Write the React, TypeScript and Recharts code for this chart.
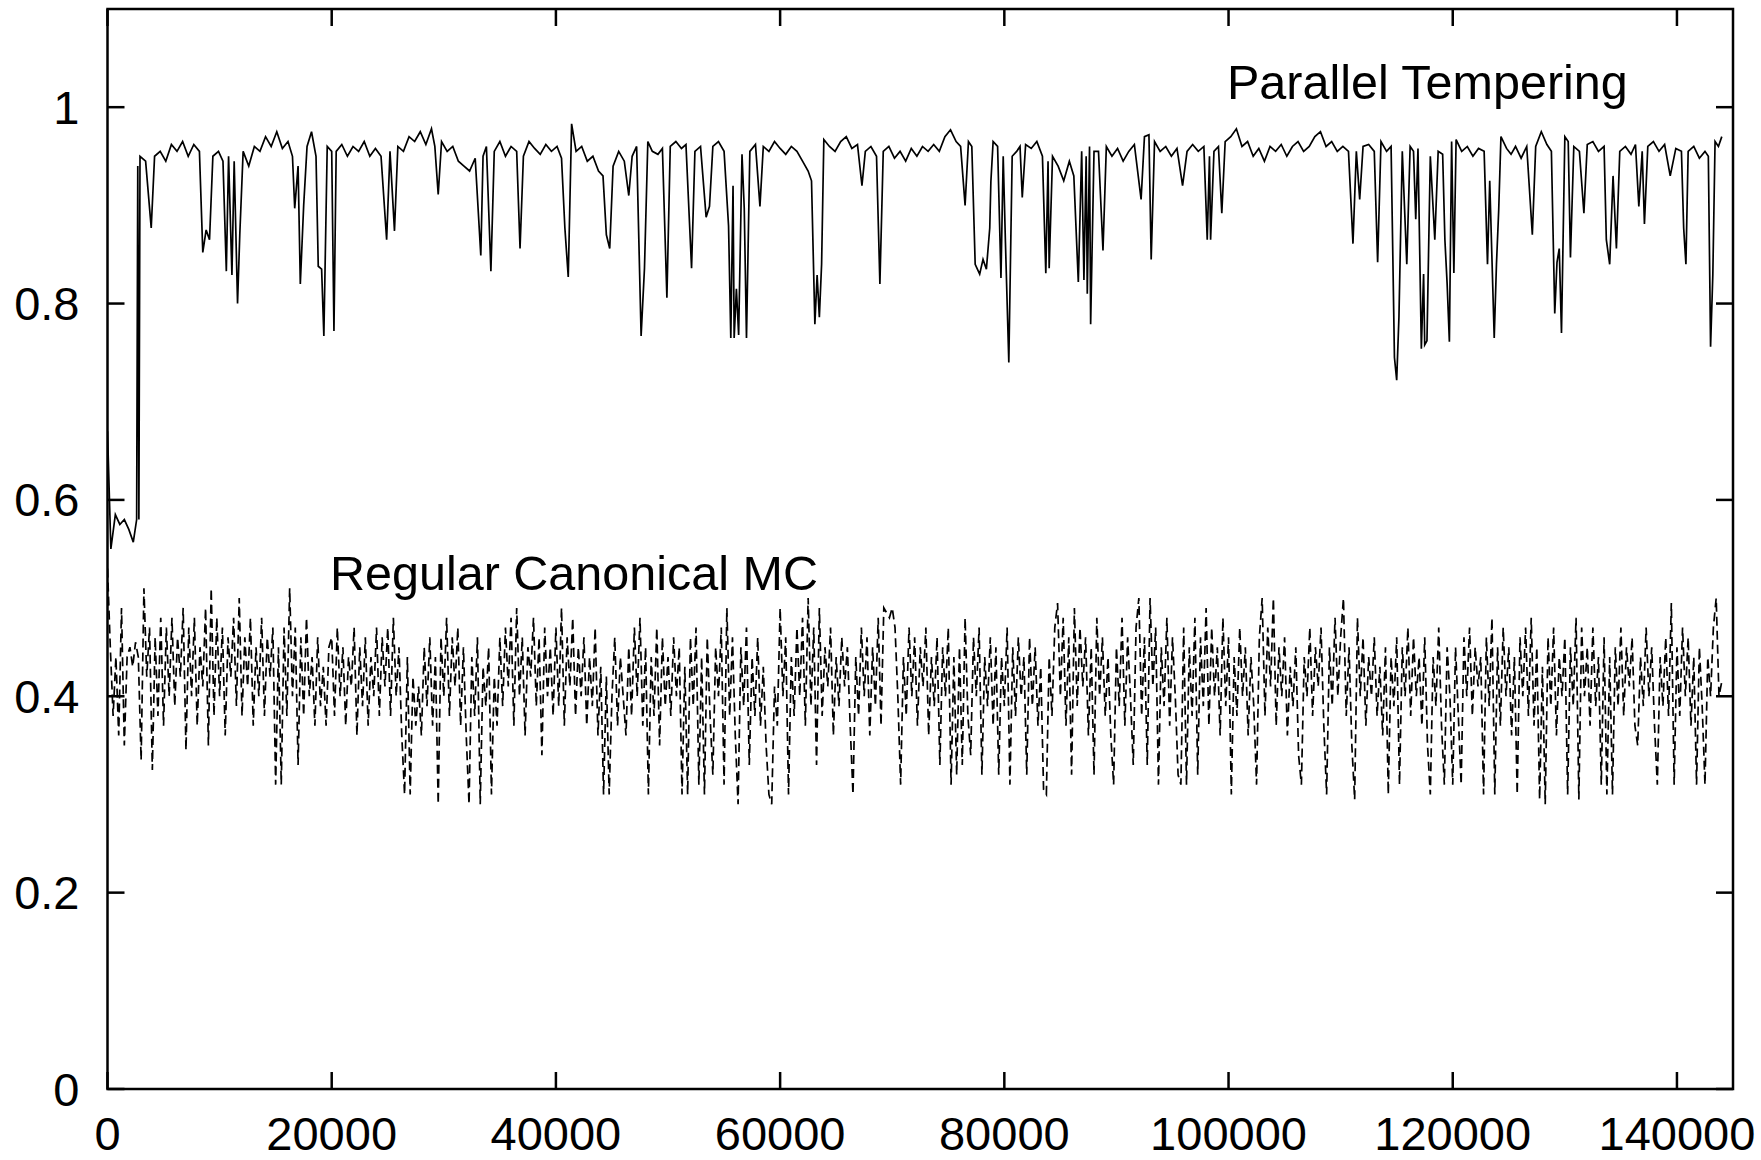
import React from "react";
import { LineChart, Line, XAxis, YAxis } from "recharts";

const xTicks = [0, 20000, 40000, 60000, 80000, 100000, 120000, 140000];
const yTicks = [0, 0.2, 0.4, 0.6, 0.8, 1];
const xDomain: [number, number] = [0, 145000];
const yDomain: [number, number] = [0, 1.1];
const ptLabel = "Parallel Tempering";
const mcLabel = "Regular Canonical MC";

// Parallel Tempering trace: [MC step, value]
const parallelTempering: [number, number][] = [
  [0, 0.67], [300, 0.55], [700, 0.585], [1100, 0.575], [1500, 0.58], [1900, 0.57], [2300, 0.557], [2600, 0.58], [2700, 0.94], [2800, 0.58], [2900, 0.95],
  [3400, 0.945], [3900, 0.877], [4200, 0.95], [4700, 0.955], [5200, 0.945], [5700, 0.962], [6200, 0.955], [6700, 0.965], [7200, 0.95], [7700, 0.962],
  [8200, 0.955], [8500, 0.852], [8800, 0.875], [9100, 0.865], [9400, 0.95], [9900, 0.955], [10300, 0.945], [10600, 0.833], [10800, 0.95], [11100, 0.829],
  [11300, 0.945], [11600, 0.8], [11800, 0.87], [12100, 0.955], [12600, 0.94], [13100, 0.96], [13600, 0.955], [14100, 0.97], [14600, 0.96], [15100, 0.975],
  [15600, 0.958], [16100, 0.965], [16500, 0.95], [16700, 0.897], [17000, 0.94], [17200, 0.82], [17500, 0.9], [17800, 0.96], [18200, 0.975], [18600, 0.95],
  [18800, 0.838], [19100, 0.835], [19300, 0.767], [19600, 0.96], [20000, 0.955], [20200, 0.772], [20400, 0.955], [20900, 0.962], [21400, 0.95], [21900, 0.96],
  [22400, 0.955], [22900, 0.965], [23400, 0.95], [23900, 0.958], [24400, 0.95],
  [24900, 0.865], [25200, 0.955], [25600, 0.874], [25900, 0.96], [26400, 0.955], [26900, 0.97], [27400, 0.965], [27900, 0.975], [28400, 0.962], [28900, 0.978],
  [29200, 0.96], [29500, 0.911], [29800, 0.965], [30300, 0.955], [30800, 0.96], [31300, 0.945], [31800, 0.94], [32300, 0.935], [32800, 0.948], [33300, 0.849],
  [33500, 0.95], [33800, 0.96], [34200, 0.833], [34500, 0.955], [35000, 0.965], [35500, 0.95], [36000, 0.96], [36500, 0.955], [36800, 0.856], [37100, 0.95],
  [37600, 0.965], [38100, 0.958], [38600, 0.952], [39100, 0.962], [39600, 0.955], [40100, 0.96], [40500, 0.948], [40800, 0.877], [41100, 0.827], [41400, 0.983],
  [41800, 0.955], [42300, 0.96], [42800, 0.945], [43300, 0.95], [43800, 0.935], [44200, 0.93], [44500, 0.87], [44800, 0.856], [45100, 0.94], [45600, 0.955],
  [46100, 0.945], [46500, 0.91], [46800, 0.95], [47200, 0.96], [47600, 0.767], [47900, 0.836], [48200, 0.965], [48600, 0.955],
  [49100, 0.952], [49500, 0.958], [49900, 0.806], [50200, 0.96], [50700, 0.965], [51200, 0.958], [51600, 0.962], [52100, 0.836], [52400, 0.955], [52900, 0.96],
  [53400, 0.888], [53700, 0.899], [54000, 0.96], [54500, 0.965], [55000, 0.955], [55400, 0.879], [55600, 0.765], [55800, 0.92], [55900, 0.765], [56100, 0.815],
  [56300, 0.768], [56600, 0.952], [56800, 0.897], [57000, 0.765], [57300, 0.955], [57800, 0.962], [58200, 0.899], [58500, 0.96], [59000, 0.955], [59500, 0.965],
  [60000, 0.958], [60500, 0.952], [61000, 0.96], [61500, 0.955], [62000, 0.945], [62500, 0.935], [62800, 0.925], [63100, 0.779], [63300, 0.829], [63500, 0.786],
  [63700, 0.84], [63900, 0.967], [64400, 0.96], [64900, 0.955], [65400, 0.965], [65900, 0.97], [66400, 0.958], [66900, 0.962], [67300, 0.92], [67600, 0.955],
  [68100, 0.96], [68600, 0.95], [68900, 0.82], [69200, 0.955], [69700, 0.96], [70200, 0.948], [70700, 0.955], [71200, 0.945], [71700, 0.958], [72200, 0.95],
  [72700, 0.96], [73200, 0.955],
  [73700, 0.962], [74200, 0.955], [74700, 0.97], [75200, 0.977], [75700, 0.965], [76100, 0.96], [76500, 0.9], [76800, 0.965], [77100, 0.96], [77400, 0.84],
  [77800, 0.83], [78100, 0.845], [78400, 0.835], [78700, 0.877], [78800, 0.924], [79000, 0.965], [79400, 0.96], [79700, 0.826], [79900, 0.95], [80100, 0.862],
  [80400, 0.74], [80700, 0.95], [81100, 0.955], [81400, 0.96], [81600, 0.908], [81900, 0.962], [82400, 0.958], [82900, 0.965], [83400, 0.95], [83700, 0.831],
  [83900, 0.945], [84000, 0.836], [84300, 0.95], [84800, 0.94], [85300, 0.925], [85800, 0.945], [86200, 0.93], [86600, 0.822], [86900, 0.955], [87100, 0.824],
  [87300, 0.95], [87400, 0.81], [87600, 0.96], [87700, 0.779], [88000, 0.955], [88400, 0.955], [88800, 0.854], [89100, 0.96], [89600, 0.95], [90100, 0.958],
  [90600, 0.945], [91100, 0.955], [91600, 0.962], [92200, 0.906], [92500, 0.97], [92900, 0.972], [93100, 0.845], [93400, 0.965], [93900, 0.955], [94400, 0.96],
  [94900, 0.95], [95400, 0.958], [95900, 0.92], [96300, 0.955], [96800, 0.962], [97300, 0.955], [97800, 0.96], [98100, 0.865], [98300, 0.95], [98400, 0.865],
  [98700, 0.955], [99100, 0.96], [99400, 0.892], [99700, 0.965], [100200, 0.97], [100700, 0.978], [101200, 0.96], [101700, 0.965], [102200, 0.95], [102700, 0.958],
  [103200, 0.945], [103700, 0.96], [104200, 0.955], [104700, 0.962], [105200, 0.95], [105700, 0.96], [106200, 0.965], [106700, 0.955], [107200, 0.96], [107700, 0.97],
  [108200, 0.975], [108700, 0.96], [109200, 0.965], [109700, 0.955], [110200, 0.96], [110700, 0.955], [111100, 0.861], [111400, 0.955], [111700, 0.906], [112000, 0.96],
  [112500, 0.962], [113000, 0.955], [113300, 0.842], [113600, 0.965], [114100, 0.955], [114500, 0.96], [114800, 0.745], [115000, 0.722], [115200, 0.786], [115500, 0.955],
  [115900, 0.84], [116200, 0.96], [116500, 0.955], [116700, 0.886], [116900, 0.958], [117200, 0.754], [117400, 0.83], [117500, 0.758], [117700, 0.762], [118000, 0.95],
  [118400, 0.865], [118700, 0.955], [119100, 0.952], [119300, 0.865], [119500, 0.82], [119700, 0.761], [119900, 0.965], [120100, 0.831], [120300, 0.967],
  [120800, 0.955], [121300, 0.96], [121800, 0.95], [122300, 0.958], [122800, 0.955], [123100, 0.84], [123300, 0.925], [123700, 0.765], [123900, 0.84], [124100, 0.895],
  [124300, 0.97], [124800, 0.958], [125200, 0.952], [125600, 0.96], [126100, 0.948], [126600, 0.96], [127100, 0.87], [127400, 0.96], [127900, 0.975], [128400, 0.962],
  [128800, 0.955], [129100, 0.79], [129300, 0.842], [129500, 0.856], [129700, 0.77], [130000, 0.97], [130300, 0.965], [130500, 0.847], [130800, 0.96], [131300, 0.955],
  [131700, 0.892], [132000, 0.962], [132500, 0.965], [133000, 0.955], [133500, 0.96], [133700, 0.865], [134000, 0.84], [134300, 0.93], [134600, 0.856], [134900, 0.955],
  [135400, 0.96], [135900, 0.952], [136300, 0.962], [136600, 0.899], [136900, 0.955], [137100, 0.881], [137400, 0.96], [137900, 0.965], [138400, 0.955], [138900, 0.962],
  [139400, 0.93], [139900, 0.958], [140400, 0.955], [140600, 0.877], [140800, 0.84], [141000, 0.955], [141500, 0.96], [142000, 0.948], [142500, 0.955], [142800, 0.95],
  [143000, 0.756], [143200, 0.829], [143400, 0.965], [143700, 0.96], [144000, 0.97],
];

// Regular canonical MC trace, sampled every mcStep steps
const mcStep = 250;
const canonicalMC: number[] = [
  0.53, 0.45, 0.38, 0.44, 0.36, 0.49, 0.35, 0.44, 0.45, 0.43, 0.455, 0.44, 0.335, 0.51, 0.42, 0.47, 0.325, 0.46, 0.38, 0.48,
  0.37, 0.47, 0.40, 0.48, 0.39, 0.46, 0.42, 0.49, 0.345, 0.47, 0.40, 0.48, 0.37, 0.45, 0.41, 0.49, 0.35, 0.51, 0.38, 0.48,
  0.40, 0.47, 0.36, 0.46, 0.42, 0.48, 0.39, 0.50, 0.38, 0.46, 0.41, 0.48, 0.37, 0.45, 0.40, 0.48, 0.38, 0.46, 0.42, 0.47,
  0.31, 0.45, 0.31, 0.47, 0.38, 0.51, 0.40, 0.47, 0.33, 0.46, 0.38, 0.48, 0.40, 0.44, 0.37, 0.46, 0.39, 0.43, 0.37, 0.45,
  0.46, 0.38, 0.47, 0.40, 0.45, 0.37, 0.44, 0.41, 0.47, 0.36, 0.45, 0.39, 0.46, 0.37, 0.44, 0.40, 0.47, 0.38, 0.46, 0.41,
  0.47, 0.38, 0.48, 0.40, 0.45, 0.36, 0.30, 0.44, 0.30, 0.42, 0.37, 0.41, 0.36, 0.45, 0.39, 0.46, 0.37, 0.44, 0.29, 0.46,
  0.40, 0.48, 0.38, 0.46, 0.41, 0.47, 0.37, 0.45, 0.36, 0.29, 0.44, 0.38, 0.46, 0.29, 0.43, 0.39, 0.45, 0.30, 0.42, 0.37,
  0.46, 0.39, 0.47, 0.41, 0.48, 0.37, 0.49, 0.40, 0.46, 0.36, 0.45, 0.42, 0.48, 0.39, 0.46, 0.34, 0.47, 0.40, 0.45, 0.38,
  0.47, 0.39, 0.49, 0.37, 0.46, 0.41, 0.48, 0.38, 0.45, 0.40, 0.46, 0.37, 0.44, 0.39, 0.47, 0.36, 0.43, 0.30, 0.42, 0.30,
  0.40, 0.46, 0.37, 0.44, 0.40, 0.36, 0.45, 0.38, 0.47, 0.40, 0.48, 0.37, 0.45, 0.30, 0.44, 0.38, 0.47, 0.35, 0.46, 0.39,
  0.44, 0.38, 0.46, 0.40, 0.45, 0.30, 0.43, 0.30, 0.46, 0.39, 0.47, 0.31, 0.44, 0.30, 0.46, 0.38, 0.32, 0.45, 0.40, 0.47,
  0.31, 0.49, 0.38, 0.46, 0.36, 0.29, 0.45, 0.39, 0.47, 0.33, 0.44, 0.38, 0.46, 0.37, 0.43, 0.35, 0.30, 0.29, 0.41, 0.37,
  0.49, 0.40, 0.46, 0.30, 0.44, 0.38, 0.47, 0.40, 0.48, 0.37, 0.50, 0.39, 0.47, 0.33, 0.49, 0.38, 0.45, 0.41, 0.47, 0.36,
  0.44, 0.39, 0.46, 0.41, 0.45, 0.37, 0.30, 0.44, 0.38, 0.47, 0.40, 0.46, 0.36, 0.45, 0.39, 0.48, 0.37, 0.49, 0.485, 0.48,
  0.49, 0.47, 0.40, 0.31, 0.44, 0.38, 0.47, 0.40, 0.46, 0.37, 0.45, 0.41, 0.47, 0.36, 0.44, 0.39, 0.46, 0.33, 0.45, 0.40,
  0.47, 0.31, 0.44, 0.32, 0.45, 0.33, 0.48, 0.38, 0.34, 0.46, 0.40, 0.47, 0.32, 0.44, 0.39, 0.46, 0.37, 0.45, 0.32, 0.44,
  0.39, 0.47, 0.31, 0.45, 0.38, 0.46, 0.40, 0.44, 0.32, 0.46, 0.39, 0.45, 0.37, 0.43, 0.305, 0.30, 0.44, 0.38, 0.47, 0.495,
  0.40, 0.48, 0.37, 0.46, 0.32, 0.49, 0.39, 0.47, 0.41, 0.46, 0.36, 0.45, 0.32, 0.48, 0.40, 0.46, 0.38, 0.44, 0.36, 0.31,
  0.45, 0.39, 0.48, 0.37, 0.46, 0.40, 0.33, 0.47, 0.50, 0.38, 0.46, 0.33, 0.50, 0.41, 0.47, 0.31, 0.45, 0.39, 0.48, 0.37,
  0.46, 0.40, 0.32, 0.31, 0.47, 0.31, 0.45, 0.38, 0.48, 0.32, 0.46, 0.39, 0.49, 0.37, 0.47, 0.40, 0.45, 0.36, 0.48, 0.39,
  0.46, 0.30, 0.44, 0.38, 0.47, 0.40, 0.45, 0.36, 0.44, 0.39, 0.31, 0.46, 0.50, 0.38, 0.47, 0.41, 0.50, 0.37, 0.45, 0.40,
  0.46, 0.36, 0.43, 0.39, 0.45, 0.34, 0.31, 0.44, 0.40, 0.47, 0.38, 0.45, 0.41, 0.47, 0.37, 0.30, 0.45, 0.39, 0.48, 0.40,
  0.46, 0.50, 0.38, 0.45, 0.35, 0.295, 0.48, 0.40, 0.46, 0.37, 0.44, 0.40, 0.46, 0.38, 0.43, 0.36, 0.45, 0.30, 0.44, 0.39,
  0.46, 0.31, 0.45, 0.40, 0.47, 0.38, 0.46, 0.40, 0.44, 0.37, 0.46, 0.35, 0.30, 0.44, 0.39, 0.47, 0.37, 0.31, 0.45, 0.40,
  0.31, 0.45, 0.38, 0.31, 0.46, 0.40, 0.47, 0.38, 0.45, 0.41, 0.44, 0.30, 0.46, 0.39, 0.48, 0.30, 0.45, 0.37, 0.47, 0.40,
  0.45, 0.36, 0.44, 0.30, 0.46, 0.40, 0.47, 0.38, 0.48, 0.37, 0.45, 0.295, 0.43, 0.29, 0.46, 0.39, 0.47, 0.36, 0.44, 0.40,
  0.46, 0.30, 0.45, 0.39, 0.48, 0.295, 0.47, 0.40, 0.45, 0.37, 0.47, 0.39, 0.44, 0.31, 0.46, 0.30, 0.44, 0.30, 0.45, 0.39,
  0.47, 0.38, 0.45, 0.41, 0.46, 0.37, 0.35, 0.44, 0.39, 0.47, 0.40, 0.45, 0.37, 0.31, 0.44, 0.39, 0.46, 0.38, 0.495, 0.31,
  0.45, 0.38, 0.47, 0.40, 0.46, 0.37, 0.44, 0.31, 0.45, 0.39, 0.31, 0.44, 0.40, 0.47, 0.50, 0.40, 0.415,
];

const ptData = parallelTempering.map(([step, value]) => ({ step, value }));
const mcData = canonicalMC.map((value, i) => ({ step: i * mcStep, value }));

const FONT = "'Liberation Sans', Arial, Helvetica, sans-serif";
const TICK_FONT = 47;
const LABEL_FONT = 48.5;
const TICK_LEN = 17;
const AXIS_W = 2.5;

// layout
const CHART_W = 1761;
const CHART_H = 1160;
const MARGIN = { top: 9, right: 28, bottom: 0, left: 0 };
const Y_AXIS_W = 107.5;
const X_AXIS_H = 71;
const PLOT_LEFT = MARGIN.left + Y_AXIS_W;
const PLOT_TOP = MARGIN.top;
const PLOT_RIGHT = CHART_W - MARGIN.right;
const PLOT_BOTTOM = CHART_H - MARGIN.bottom - X_AXIS_H;

const BottomTick = (props: any) => {
  const { x, payload } = props;
  return (
    <g>
      <line x1={x} y1={PLOT_BOTTOM} x2={x} y2={PLOT_BOTTOM - TICK_LEN} stroke="#000" strokeWidth={AXIS_W} />
      <line x1={x} y1={PLOT_TOP} x2={x} y2={PLOT_TOP + TICK_LEN} stroke="#000" strokeWidth={AXIS_W} />
      <text x={x} y={PLOT_BOTTOM + 61} textAnchor="middle" fontSize={TICK_FONT} fontFamily={FONT} fill="#000">
        {String(payload.value)}
      </text>
    </g>
  );
};

const LeftTick = (props: any) => {
  const { y, payload } = props;
  return (
    <g>
      <line x1={PLOT_LEFT} y1={y} x2={PLOT_LEFT + TICK_LEN} y2={y} stroke="#000" strokeWidth={AXIS_W} />
      <line x1={PLOT_RIGHT} y1={y} x2={PLOT_RIGHT - TICK_LEN} y2={y} stroke="#000" strokeWidth={AXIS_W} />
      <text x={PLOT_LEFT - 28} y={y} textAnchor="end" dominantBaseline="central" fontSize={TICK_FONT} fontFamily={FONT} fill="#000">
        {String(payload.value)}
      </text>
    </g>
  );
};

export default function App() {
  return (
    <div style={{ position: "relative", width: CHART_W, height: CHART_H, background: "#fff" }}>
      <style>{`html,body{margin:0;padding:0;overflow:hidden;background:#fff}`}</style>
      <LineChart width={CHART_W} height={CHART_H} margin={MARGIN}>
        <XAxis
          type="number"
          dataKey="step"
          domain={xDomain}
          ticks={xTicks}
          interval={0}
          allowDataOverflow
          height={X_AXIS_H}
          tickLine={false}
          axisLine={false}
          tick={<BottomTick />}
        />
        <YAxis
          type="number"
          domain={yDomain}
          ticks={yTicks}
          interval={0}
          allowDataOverflow
          width={Y_AXIS_W}
          tickLine={false}
          axisLine={false}
          tick={<LeftTick />}
        />
        <Line
          data={ptData}
          dataKey="value"
          type="linear"
          stroke="#000"
          strokeWidth={1.7}
          dot={false}
          activeDot={false}
          isAnimationActive={false}
        />
        <Line
          data={mcData}
          dataKey="value"
          type="linear"
          stroke="#000"
          strokeWidth={1.7}
          strokeDasharray="9 5"
          dot={false}
          activeDot={false}
          isAnimationActive={false}
        />
      </LineChart>
      <svg
        width={CHART_W}
        height={CHART_H}
        style={{ position: "absolute", left: 0, top: 0, pointerEvents: "none" }}
      >
        <rect
          x={PLOT_LEFT}
          y={PLOT_TOP}
          width={PLOT_RIGHT - PLOT_LEFT}
          height={PLOT_BOTTOM - PLOT_TOP}
          fill="none"
          stroke="#000"
          strokeWidth={AXIS_W}
        />
        <text x={1227} y={99} fontSize={LABEL_FONT} fontFamily={FONT} fill="#000">
          {ptLabel}
        </text>
        <text x={330} y={590} fontSize={LABEL_FONT} fontFamily={FONT} fill="#000">
          {mcLabel}
        </text>
      </svg>
    </div>
  );
}
